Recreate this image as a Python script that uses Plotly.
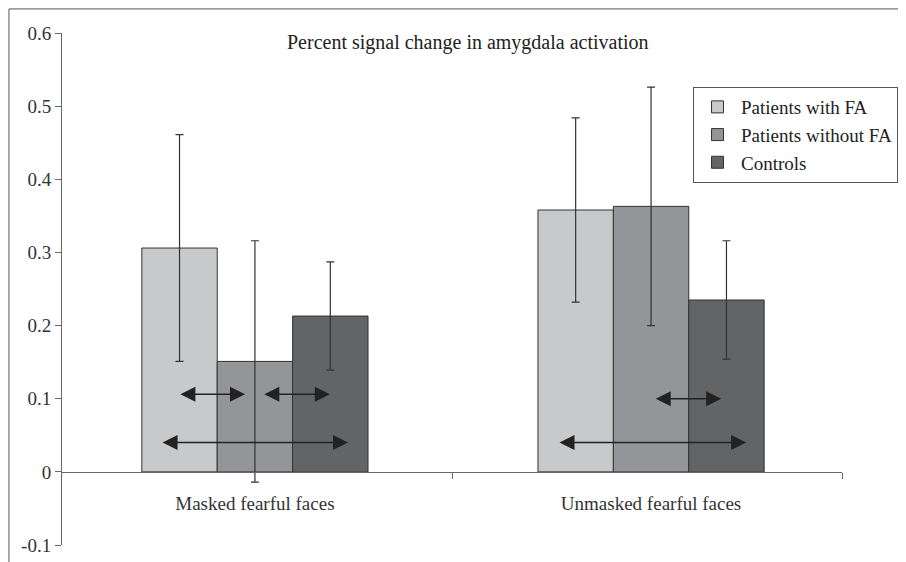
import plotly.graph_objects as go

# ---- data ----
categories_x = [0, 1]
category_labels = ["Masked fearful faces", "Unmasked fearful faces"]
series_names = ["Patients with FA", "Patients without FA", "Controls"]
values_fa = [0.306, 0.358]
values_nofa = [0.151, 0.363]
values_ctrl = [0.213, 0.235]
err_fa = [0.155, 0.126]
err_nofa = [0.165, 0.163]
err_ctrl = [0.074, 0.081]
colors = ["#c8c9cb", "#939598", "#636466"]

y_tickvals = [0.6, 0.5, 0.4, 0.3, 0.2, 0.1, 0, -0.1]
y_ticktext = ["0.6", "0.5", "0.4", "0.3", "0.2", "0.1", "0", "-0.1"]

# significance arrows: (x start, x end, y)
arrow_x0 = [-0.192, 0.020, -0.237, 1.008, 0.765]
arrow_x1 = [-0.025, 0.189, 0.235, 1.177, 1.240]
arrow_y = [0.106, 0.106, 0.040, 0.100, 0.040]

title_text = "Percent signal change in amygdala activation"

x_range = [-0.487, 1.482]
FONT = "Liberation Serif"

fig = go.Figure()
for name, vals, errs, col in zip(series_names, [values_fa, values_nofa, values_ctrl],
                                 [err_fa, err_nofa, err_ctrl], colors):
    fig.add_trace(go.Bar(
        x=categories_x, y=vals, name=name,
        marker=dict(color=col, line=dict(color="#333333", width=1)),
        error_y=dict(type="data", array=errs, visible=True, color="#333333",
                     thickness=1.2, width=4),
    ))

for x0, x1, y in zip(arrow_x0, arrow_x1, arrow_y):
    fig.add_annotation(
        x=x1, y=y, ax=x0, ay=y, xref="x", yref="y", axref="x", ayref="y",
        text="", showarrow=True, arrowhead=2, startarrowhead=2,
        arrowside="end+start", arrowsize=2, startarrowsize=2,
        arrowwidth=1.5, arrowcolor="#222222",
    )

fig.add_annotation(
    x=0.5205, y=0.9805, xref="paper", yref="paper", text=title_text,
    showarrow=False, font=dict(family=FONT, size=20, color="#222222"),
    xanchor="center", yanchor="middle",
)

# outer frame
fig.add_shape(type="rect", xref="paper", yref="paper",
              x0=-0.068, x1=1.09, y0=-0.06, y1=1.047,
              line=dict(color="#555555", width=1), fillcolor="rgba(0,0,0,0)")

fig.update_layout(
    width=898, height=554,
    margin=dict(l=54, r=64, t=25, b=17, autoexpand=False),
    paper_bgcolor="white", plot_bgcolor="white",
    barmode="group", bargap=0.429, bargroupgap=0,
    font=dict(family=FONT, size=19, color="#333333"),
    showlegend=True,
    legend=dict(x=0.809, y=0.8945, xanchor="left", yanchor="top",
                bgcolor="white", bordercolor="#555555", borderwidth=1,
                font=dict(family=FONT, size=19, color="#222222"),
                tracegroupgap=2, itemwidth=37),
    xaxis=dict(
        range=x_range, anchor="free", position=1/7,
        showline=True, linecolor="#666666", linewidth=1,
        showgrid=False, zeroline=False,
        tickmode="array", tickvals=categories_x, ticktext=category_labels,
        ticks="", ticklabelstandoff=14,
        tickfont=dict(family=FONT, size=19, color="#333333"),
        minor=dict(tickmode="array", tickvals=[0.5, x_range[1]], ticks="outside",
                   ticklen=6, tickcolor="#666666", tickwidth=1, showgrid=False),
    ),
    yaxis=dict(
        range=[-0.1, 0.6], showline=True, linecolor="#666666", linewidth=1,
        showgrid=False, zeroline=False,
        tickmode="array", tickvals=y_tickvals, ticktext=y_ticktext,
        ticks="outside", ticklen=6, tickcolor="#666666",
        tickfont=dict(family=FONT, size=19, color="#333333"),
    ),
)

fig.write_html("out.html")
